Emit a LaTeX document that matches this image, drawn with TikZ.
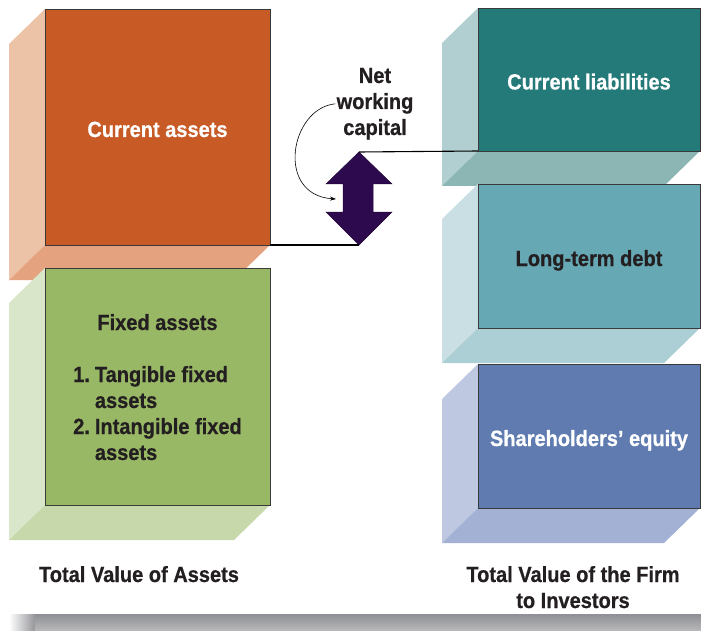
\documentclass[tikz,border=0pt]{standalone}
\usepackage{fontspec}
\setmainfont{Liberation Sans}[FakeStretch=0.91, BoldFeatures={FakeBold=0.6}]
\usetikzlibrary{calc,arrows.meta,backgrounds}
\definecolor{facedraw}{HTML}{3A3A3A}
\definecolor{txtdark}{HTML}{231F20}
\definecolor{caF}{HTML}{C85A25}\definecolor{caS}{HTML}{EDC3A8}\definecolor{caB}{HTML}{E4A27F}
\definecolor{faF}{HTML}{99B866}\definecolor{faS}{HTML}{DAE6CA}\definecolor{faB}{HTML}{C7D9AA}
\definecolor{clF}{HTML}{247A78}\definecolor{clS}{HTML}{B1CFD0}\definecolor{clB}{HTML}{8CB6B4}
\definecolor{ltF}{HTML}{67A8B5}\definecolor{ltS}{HTML}{CADFE3}\definecolor{ltB}{HTML}{ACCED5}
\definecolor{seF}{HTML}{5F7BB0}\definecolor{seS}{HTML}{BEC8E1}\definecolor{seB}{HTML}{A2B1D4}
\definecolor{arrowfill}{HTML}{2D0A4E}
\definecolor{bartop}{HTML}{8F9095}
\definecolor{barbot}{HTML}{B9B9BB}
\newcommand\lblfont{\fontsize{22}{26}\selectfont\bfseries}
\newcommand\blockextrude[3]{%
  \begin{pgfonlayer}{background}
  \fill[#2] (#1.north west) -- ++(-36,35) -- ($(#1.south west)+(-36,35)$) -- (#1.south west) -- cycle;
  \fill[#3] (#1.south west) -- (#1.south east) -- ++(-36,35) -- ($(#1.south west)+(-36,35)$) -- cycle;
  \end{pgfonlayer}}
\tikzset{
  face/.style={draw=facedraw, line width=0.8pt, outer sep=0pt, inner sep=0pt,
    anchor=north west, align=center, font=\lblfont, text height=20pt, text depth=0pt},
  lighttext/.style={text=white},
  darktext/.style={text=txtdark},
  plainlabel/.style={font=\lblfont, text=txtdark, inner sep=2pt, anchor=base},
  connector/.style={draw=black, line width=1.1pt},
  pointer/.style={draw=black, line width=0.6pt, -{Stealth[length=6pt,width=4pt]}},
}
\begin{document}
\begin{tikzpicture}[x=1pt,y=-1pt]
\useasboundingbox (0,0) rectangle (701,631);
% left column
\node[face, lighttext, fill=caF, minimum width=225pt, minimum height=236pt] (CA) at (45,9) {Current assets};
\blockextrude{CA}{caS}{caB}
\node[face, darktext, fill=faF, minimum width=225pt, minimum height=237pt, text height=20pt, text depth=133pt] (FA) at (45,268)
  {\begin{tabular}[t]{@{}r@{\hspace{5pt}}l@{}}\multicolumn{2}{c}{Fixed assets}\\[26pt]
   1. & Tangible fixed\\ & assets\\ 2. & Intangible fixed\\ & assets\end{tabular}};
\blockextrude{FA}{faS}{faB}
% right column
\node[face, lighttext, fill=clF, minimum width=222pt, minimum height=143pt] (CL) at (478,8) {Current liabilities};
\blockextrude{CL}{clS}{clB}
\node[face, darktext, fill=ltF, minimum width=222pt, minimum height=144pt] (LTD) at (478,184) {Long-term debt};
\blockextrude{LTD}{ltS}{ltB}
\node[face, lighttext, fill=seF, minimum width=222pt, minimum height=144pt] (SE) at (478,364) {Shareholders’ equity};
\blockextrude{SE}{seS}{seB}
% net working capital arrow
\coordinate (nwcTop) at (359,152);
\coordinate (nwcBot) at (359,245);
\filldraw[fill=arrowfill, draw=arrowfill!70!black, line width=0.5pt]
  (nwcTop) -- ++(33,32) -- ++(-19,0) -- ++(0,28) -- ++(19,0) -- (nwcBot)
  -- ++(-33,-33) -- ++(17,0) -- ++(0,-28) -- ++(-17,0) -- cycle;
\draw[connector] (CA.south east) -- (nwcBot);
\draw[connector] (nwcTop) -- (CL.south west);
\node[plainlabel, inner sep=1pt] (nwc) at (375,83)
  {\begin{tabular}[t]{@{}c@{}}\fontsize{22}{25}\selectfont Net\\\fontsize{22}{25}\selectfont working\\\fontsize{22}{25}\selectfont capital\end{tabular}};
\coordinate (nwcTip) at (336,199);
\draw[pointer] (nwc.west) .. controls (290,108) and (275,195) .. (nwcTip);
% bottom labels
\node[plainlabel] (tva) at (139,582) {Total Value of Assets};
\node[plainlabel] (tvf) at (573,582)
  {\begin{tabular}[t]{@{}c@{}}Total Value of the Firm\\to Investors\end{tabular}};
% shadow bar
\shade[top color=bartop, bottom color=barbot] (34,614) rectangle (701,631);
\shade[left color=white, right color=bartop!80!barbot] (9,614) rectangle (34.5,631);
\end{tikzpicture}
\end{document}
